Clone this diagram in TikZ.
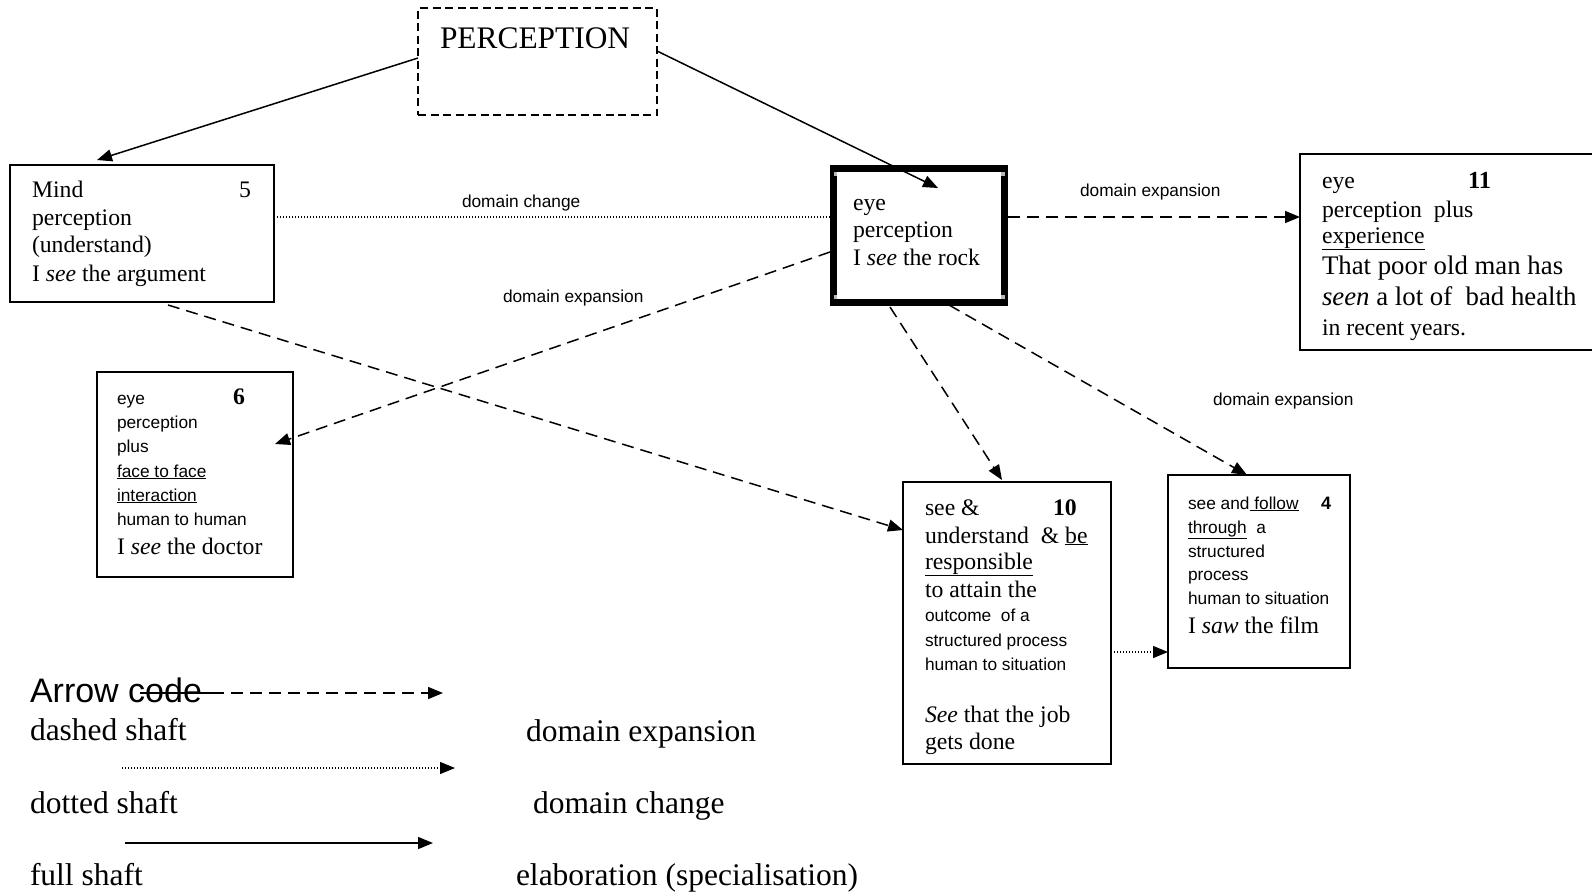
\documentclass[tikz,border=0pt]{standalone}
\usepackage{fontspec}
\setmainfont{Liberation Serif}
\newfontfamily\arialf{Liberation Sans}
\usetikzlibrary{arrows.meta}
\newcommand\fTimes{\fontsize{23.7}{28}\selectfont}
\newcommand\fBig{\fontsize{26.8}{31}\selectfont}
\newcommand\fArial{\arialf\fontsize{17.3}{20}\selectfont}
\newcommand\fPerc{\fontsize{31.4}{36}\selectfont}
\newcommand\fLeg{\fontsize{31.5}{36}\selectfont}
\newcommand\fLegA{\arialf\fontsize{34}{40}\selectfont}
\tikzset{
  box/.style={draw, line width=1.6pt, rectangle, inner sep=0pt, outer sep=0pt, anchor=north west},
  txt/.style={anchor=base west, inner sep=0pt, outer sep=0pt, font=\fTimes},
  sm/.style={anchor=base west, inner sep=0pt, outer sep=0pt, font=\fArial},
  conn/.style={line width=1.5pt, -{Triangle[length=15pt,width=12pt]}},
  dsh/.style={conn, dash pattern=on 12pt off 7pt},
  dotl/.style={line width=1.2pt, dash pattern=on 1.2pt off 1.8pt},
  notch/.style={fill=gray!55, draw=none},
}
\begin{document}
\begin{tikzpicture}[x=1pt,y=-1pt]
\useasboundingbox (0,0) rectangle (1592,892);
\clip (0,0) rectangle (1592,892);
% boxes
\node[box, dash pattern=on 8pt off 4.5pt, minimum width=239pt, minimum height=107pt] (perc) at (418,8) {};
\node[box, minimum width=264pt, minimum height=137pt] (mind) at (10,165) {};
\node[box, line width=7pt, minimum width=171pt, minimum height=134pt] (eye) at (833.5,168.5) {};
\node[box, minimum width=300pt, minimum height=196pt] (b11) at (1300,154) {};
\node[box, minimum width=196pt, minimum height=205pt] (b6) at (97,372) {};
\node[box, minimum width=208pt, minimum height=282pt] (b10) at (903,482) {};
\node[box, minimum width=182pt, minimum height=193pt] (b4) at (1168,475) {};
% corner notches of the thick frame
\fill[notch] (833.5,172) rectangle (837,176);
\fill[notch] (1001,172) rectangle (1004.5,176);
\fill[notch] (833.5,295) rectangle (837,299);
\fill[notch] (1001,295) rectangle (1004.5,299);
% texts
\node[txt, font=\fPerc] (tperc) at (440,48) {PERCEPTION};
\node[txt] (m1) at (32,197) {Mind};
\node[txt] (m5) at (239,197) {5};
\node[txt] (m2) at (32,225) {perception};
\node[txt] (m3) at (32,252) {(understand)};
\node[txt] (m4) at (32,281) {I \textit{see} the argument};
\node[txt] (e1) at (853,210) {eye};
\node[txt] (e2) at (853,237) {perception};
\node[txt] (e3) at (853,265) {I \textit{see} the rock};
\node[txt] (k1) at (1322,188) {eye};
\node[txt, font=\fontsize{24.5}{28}\selectfont\bfseries] (k11) at (1468,188) {11};
\node[txt] (k2) at (1322,217) {perception\ \ plus};
\node[txt] (k3) at (1322,243) {\underline{experience}};
\node[txt, font=\fBig] (k4) at (1322,274) {That poor old man has};
\node[txt, font=\fBig] (k5) at (1322,305) {\textit{seen} a lot of\ \ bad health};
\node[txt] (k6) at (1322,335) {in recent years.};
\node[sm] (s1) at (117,404) {eye};
\node[txt, font=\fTimes\bfseries] (s6) at (233,404) {6};
\node[sm] (s2) at (117,428) {perception};
\node[sm] (s3) at (117,452) {plus};
\node[sm] (s4) at (117,477) {\underline{face to face}};
\node[sm] (s5) at (117,501) {\underline{interaction}};
\node[sm] (s7) at (117,525) {human to human};
\node[txt] (s8) at (117,554) {I \textit{see} the doctor};
\node[txt] (u1) at (925,515) {see \&};
\node[txt, font=\fTimes\bfseries] (u10) at (1053,515) {10};
\node[txt] (u2) at (925,543) {understand\ \ \& \underline{be}};
\node[txt] (u3) at (925,569) {\underline{responsible}};
\node[txt] (u4) at (925,597) {to attain the};
\node[sm] (u5) at (925,621) {outcome\ \ of a};
\node[sm] (u6) at (925,646) {structured process};
\node[sm] (u7) at (925,670) {human to situation};
\node[txt] (u8) at (925,722) {\textit{See} that the job};
\node[txt] (u9) at (925,749) {gets done};
\node[sm] (f1) at (1188,509) {see and\underline{\ follow}};
\node[sm, font=\arialf\fontsize{18}{20}\selectfont\bfseries] (f4) at (1321,509) {4};
\node[sm] (f2) at (1188,533) {\underline{through}\ \ a};
\node[sm] (f3) at (1188,557) {structured};
\node[sm] (f5) at (1188,580) {process};
\node[sm] (f6) at (1188,604) {human to situation};
\node[txt] (f7) at (1188,633) {I \textit{saw} the film};
% connector labels
\node[sm] (l1) at (462,207) {domain change};
\node[sm] (l2) at (503,302) {domain expansion};
\node[sm] (l3) at (1080,196) {domain expansion};
\node[sm] (l4) at (1213,405) {domain expansion};
% connectors
\draw[conn] ([yshift=-50pt]perc.north west) -- ([xshift=87pt,yshift=5pt]mind.north west);
\draw[conn] ([yshift=-43pt]perc.north east) -- ([xshift=104.5pt,yshift=-19.5pt]eye.north west);
\draw[dotl] ([yshift=-52pt]mind.north east) -- ([xshift=-3.5pt,yshift=-48.5pt]eye.north west);
\draw[dsh] ([xshift=3.5pt,yshift=-48.5pt]eye.north east) -- ([yshift=-63pt]b11.north west);
\draw[dsh] ([xshift=-3.5pt,yshift=-83.5pt]eye.north west) -- ([xshift=-18pt,yshift=-72pt]b6.north east);
\draw[dsh] ([xshift=158pt,yshift=-3pt]mind.south west) -- ([yshift=-48pt]b10.north west);
\draw[dsh] ([xshift=56.5pt,yshift=-4.5pt]eye.south west) -- ([xshift=99pt,yshift=2pt]b10.north west);
\draw[dsh] ([xshift=115.5pt,yshift=-2.5pt]eye.south west) -- ([xshift=79pt]b4.north west);
\draw[conn, dotl] ([yshift=-170pt]b10.north east) -- ([yshift=-177pt]b4.north west);
% legend
\node[sm, font=\fLegA] (lg0) at (30,702) {Arrow code};
\node[txt, font=\fLeg] (lg1) at (30,740) {dashed shaft};
\node[txt, font=\fLeg] (lg2) at (30,813) {dotted shaft};
\node[txt, font=\fLeg] (lg3) at (30,885) {full shaft};
\node[txt, font=\fLeg] (lg4) at (526,741) {domain expansion};
\node[txt, font=\fLeg] (lg5) at (533,813) {domain change};
\node[txt, font=\fLeg] (lg6) at (516,885) {elaboration (specialisation)};
\coordinate (la0) at (140,693);
\coordinate (la1) at (212,693);
\coordinate (la2) at (443,693);
\coordinate (lb1) at (122,768);
\coordinate (lb2) at (455,768);
\coordinate (lc1) at (125,843);
\coordinate (lc2) at (433,843);
\draw[line width=1.5pt] (la0) -- (la1);
\draw[dsh] (la1) -- (la2);
\draw[conn, dotl] (lb1) -- (lb2);
\draw[conn] (lc1) -- (lc2);
\end{tikzpicture}
\end{document}
